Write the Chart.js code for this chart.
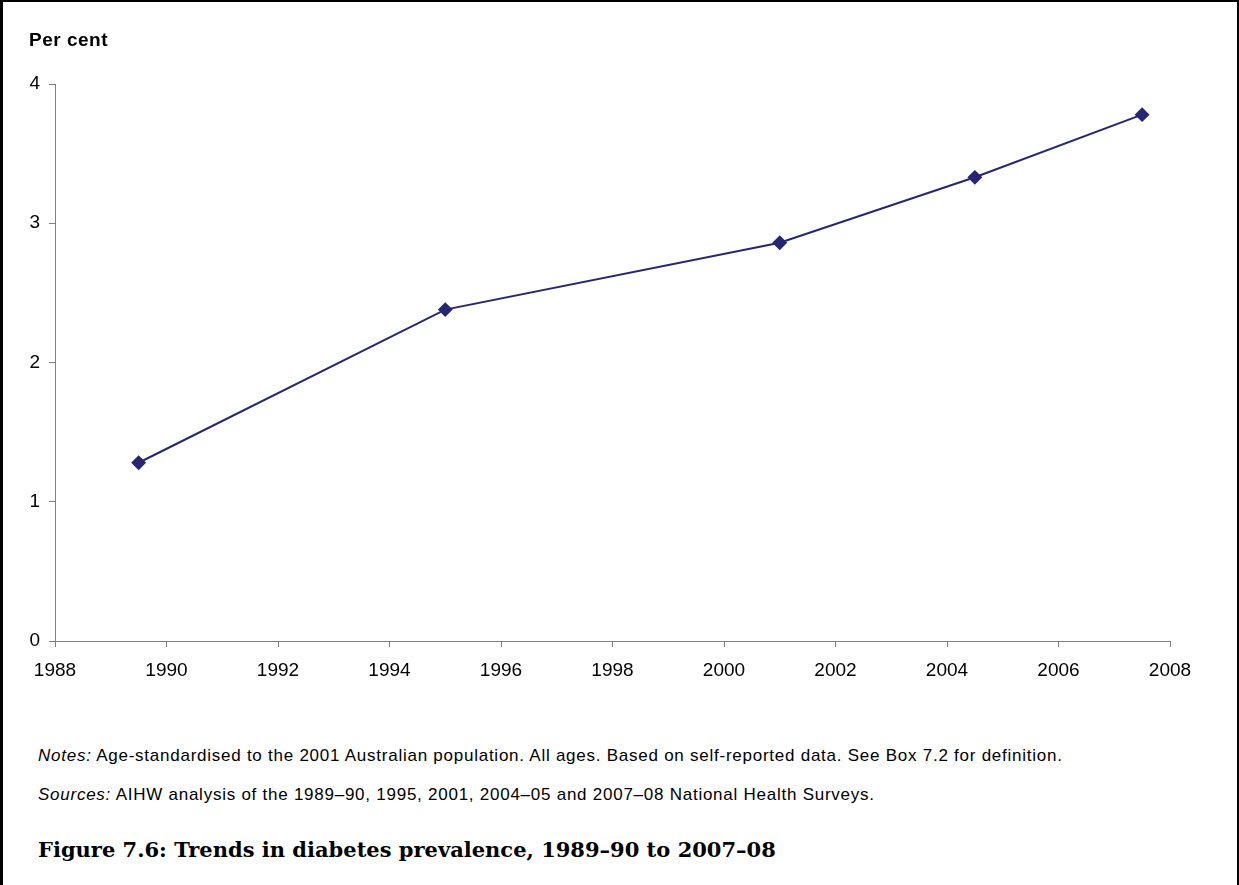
<!DOCTYPE html>
<html>
<head>
<meta charset="utf-8">
<script src="https://cdn.jsdelivr.net/npm/chart.js@4"></script>
<style>
  html, body { margin: 0; padding: 0; background: #fff; }
  #page {
    position: relative; width: 1239px; height: 885px; box-sizing: border-box;
    border-left: 3px solid #000; border-top: 2px solid #000; border-right: 2px solid #000;
    font-family: "Liberation Sans", Arial, sans-serif; color: #000; overflow: hidden;
  }
  #chartBox { position: absolute; left: -3px; top: -2px; width: 1239px; height: 700px; }
  .ylab { position: absolute; left: 26px; top: 27px; font-weight: bold; font-size: 19px; letter-spacing: 0.5px; }
  .note { position: absolute; left: 35px; font-size: 17px; letter-spacing: 0.75px; white-space: nowrap; }
  .title { position: absolute; left: 35px; top: 835px; font-family: "DejaVu Serif", "Liberation Serif", serif; font-weight: bold; font-size: 21px; white-space: nowrap; }
</style>
</head>
<body>
<div id="page">
  <div id="chartBox"><canvas id="trend"></canvas></div>
  <div class="ylab">Per cent</div>
  <div class="note" style="top:744px"><i>Notes:</i> Age-standardised to the 2001 Australian population. All ages. Based on self-reported data. See Box 7.2 for definition.</div>
  <div class="note" style="top:783px"><i>Sources:</i> AIHW analysis of the 1989–90, 1995, 2001, 2004–05 and 2007–08 National Health Surveys.</div>
  <div class="title">Figure 7.6: Trends in diabetes prevalence, 1989–90 to 2007–08</div>
</div>
<script>
// survey mid-points (year) and prevalence (%)
const surveyYears = [1989.5, 1995, 2001, 2004.5, 2007.5];
const prevalence = [1.28, 2.38, 2.86, 3.33, 3.78];

const xMin = 1988, xMax = 2008, xStep = 2;
const yMin = 0, yMax = 4, yStep = 1;

const points = surveyYears.map((yr, i) => ({ x: yr, y: prevalence[i] }));

const axisGrey = '#808080';
const tickFont = { family: '"Liberation Sans", Arial, sans-serif', size: 19 };

new Chart(document.getElementById('trend'), {
    type: 'line',
    data: {
        datasets: [{
            label: 'Diabetes prevalence',
            data: points,
            borderColor: '#262673',
            backgroundColor: '#262673',
            borderWidth: 2,
            pointStyle: 'rectRot',
            pointRadius: 6,
            pointHoverRadius: 6,
            tension: 0
        }]
    },
    options: {
        responsive: true,
        maintainAspectRatio: false,
        animation: false,
        layout: { padding: { left: 0, top: 84, right: 69, bottom: 19 } },
        plugins: { legend: { display: false }, tooltip: { enabled: false } },
        scales: {
            x: {
                type: 'linear',
                min: xMin, max: xMax,
                ticks: { stepSize: xStep, color: '#000', font: tickFont, padding: 12, callback: v => String(v) },
                grid: { display: true, drawOnChartArea: false, drawTicks: true, tickLength: 6, color: axisGrey },
                border: { color: axisGrey, width: 1 },
                afterFit: s => { s.height = 40; }
            },
            y: {
                min: yMin, max: yMax,
                ticks: { stepSize: yStep, color: '#000', font: tickFont, padding: 9 },
                grid: { display: true, drawOnChartArea: false, drawTicks: true, tickLength: 6, color: axisGrey },
                border: { color: axisGrey, width: 1 },
                afterFit: s => { s.width = 55; }
            }
        }
    }
});
</script>
</body>
</html>
